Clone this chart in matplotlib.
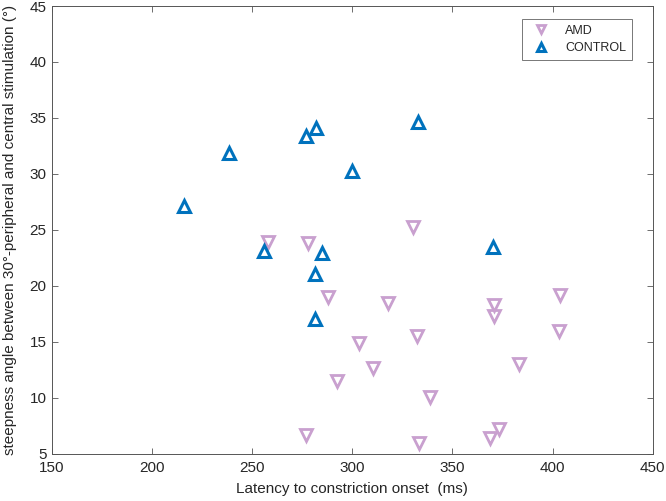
import matplotlib
matplotlib.use("Agg")
import matplotlib.pyplot as plt

plt.rcParams['font.family'] = ['Liberation Sans', 'DejaVu Sans']

# AMD group: latency (ms) vs steepness angle (deg)
amd_latency = [330.5, 258, 278, 287.7, 317.7, 332.5, 303.5, 310.2, 292.2, 339,
               276.8, 333.5, 370.7, 371, 403.5, 403.2, 383, 373.5, 368.8]
amd_angle = [25.3, 23.9, 23.8, 19.0, 18.5, 15.5, 14.9, 12.7, 11.5, 10.1,
             6.7, 6.0, 18.3, 17.3, 19.2, 16.0, 13.0, 7.2, 6.4]

# control group
ctrl_latency = [216, 238.5, 276.8, 281.8, 333, 299.8, 256, 284.7, 281.5, 281.2, 370.2]
ctrl_angle = [27.1, 31.9, 33.4, 34.1, 34.6, 30.3, 23.1, 22.9, 21.1, 17.05, 23.5]

fig = plt.figure(figsize=(6.66, 5.01), dpi=100)
ax = fig.add_axes([0.078, 0.094, 0.902, 0.894])

amd_col = '#C9A0CF'
ctrl_col = '#0072BD'

ax.plot(amd_latency, amd_angle, 'v', ls='none', ms=8, mew=2,
        mfc='none', mec=amd_col, label='AMD')
ax.plot(ctrl_latency, ctrl_angle, '^', ls='none', ms=8, mew=2.2,
        mfc='none', mec=ctrl_col, label='CONTROL')

ax.set_xlim(150, 450)
ax.set_ylim(5, 45)
ax.set_xticks(range(150, 451, 50))
ax.set_yticks(range(5, 46, 5))

txt = '#262626'
ax.tick_params(direction='in', top=True, right=True, length=4, width=0.6,
               colors='#555555', labelcolor=txt, labelsize=11)
ax.tick_params(axis='x', pad=5)
ax.tick_params(axis='y', pad=4)
for s in ax.spines.values():
    s.set_color('#555555')
    s.set_linewidth(0.7)

ax.set_xlabel('Latency to constriction onset  (ms)', fontsize=11, color=txt, labelpad=5)
ax.set_ylabel('steepness angle between 30°-peripheral and central stimulation (°)',
              fontsize=11, color=txt, labelpad=9)

leg = ax.legend(loc='upper right', bbox_to_anchor=(0.965, 0.971), borderaxespad=0,
                fontsize=9, frameon=True, fancybox=False, edgecolor='#555555',
                handlelength=2.2, handletextpad=0.8, borderpad=0.45,
                labelspacing=0.45, markerscale=0.8)
leg.get_frame().set_linewidth(0.7)
for t in leg.get_texts():
    t.set_color(txt)

fig.savefig('out.png', dpi=100)
